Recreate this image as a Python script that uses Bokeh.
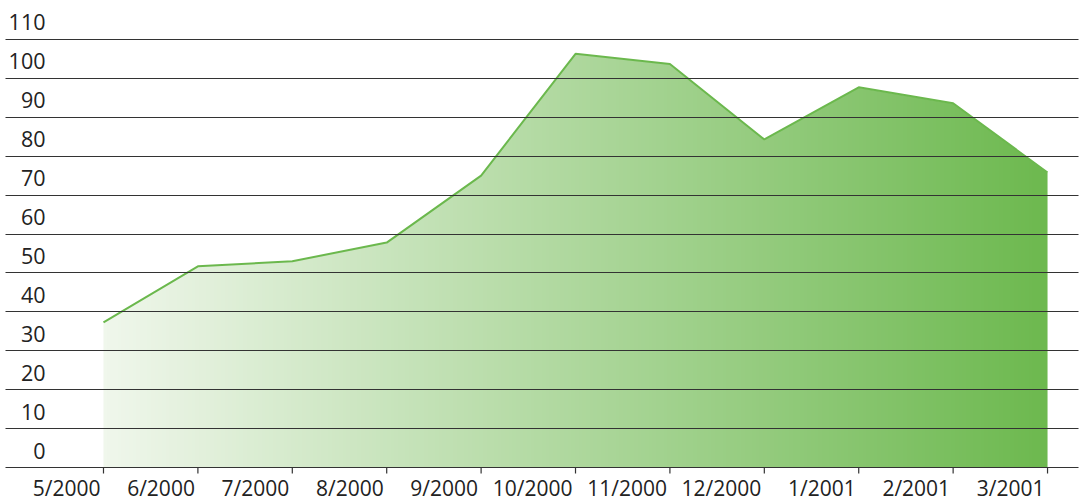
import numpy as np
from bokeh.plotting import figure
from bokeh.models import FixedTicker, ColumnDataSource, LabelSet, Range1d
from bokeh.core.properties import value
from bokeh.embed import file_html
from bokeh.resources import INLINE

months = ["5/2000", "6/2000", "7/2000", "8/2000", "9/2000", "10/2000",
          "11/2000", "12/2000", "1/2001", "2/2001", "3/2001"]
values = [37.3, 51.7, 53.0, 57.8, 75.0, 106.3, 103.7, 84.3, 97.7, 93.6, 75.8]
y_ticks = [0, 10, 20, 30, 40, 50, 60, 70, 80, 90, 100, 110]

GRID = "#333333"
TEXT = "#222222"
FONT = value("Open Sans")
LEFT_COL = (0xF0, 0xF7, 0xEC)
RIGHT_COL = (0x6D, 0xB9, 0x4F)
LINE_COL = "#6BB84D"

idx = list(range(len(months)))

H = 504
Y_TOP = 120.0
PX_PER_UNIT = 467.0 / Y_TOP          # 0 sits 37px above the bottom edge
Y_BOTTOM = -(H - 467.0) / PX_PER_UNIT

p = figure(width=1081, height=H, output_backend="svg", toolbar_location=None,
           x_range=Range1d(-1.038, 10.328), y_range=Range1d(Y_BOTTOM, Y_TOP),
           min_border_left=5, min_border_right=3, min_border_top=0,
           min_border_bottom=0, x_axis_location=None, y_axis_location=None,
           outline_line_color=None, background_fill_color="white")

# horizontal gradient area: gradient image + white mask above the line
n = 256
t = np.linspace(0, 1, n)
r = (LEFT_COL[0] + (RIGHT_COL[0] - LEFT_COL[0]) * t).astype(np.uint32)
g = (LEFT_COL[1] + (RIGHT_COL[1] - LEFT_COL[1]) * t).astype(np.uint32)
b = (LEFT_COL[2] + (RIGHT_COL[2] - LEFT_COL[2]) * t).astype(np.uint32)
img = (255 << 24) | (b << 16) | (g << 8) | r
img = img.reshape(1, n).astype(np.uint32)
vmax = max(values)
p.image_rgba(image=[img], x=idx[0], y=0, dw=idx[-1] - idx[0], dh=vmax)
e = 0.05
mask_x = [idx[0] - e, idx[0] - e] + idx + [idx[-1] + e, idx[-1] + e]
mask_y = [vmax + 1, values[0]] + values + [values[-1], vmax + 1]
p.patch(mask_x, mask_y, fill_color="white", line_color="white", line_width=0.5)

p.line(idx, values, line_color=LINE_COL, line_width=2)

# grid (the 0 line doubles as the x axis line)
p.xgrid.visible = False
p.ygrid.ticker = FixedTicker(ticks=y_ticks)
p.ygrid.grid_line_color = GRID
p.ygrid.grid_line_width = 1.2
p.ygrid.level = "overlay"

# x tick marks below the axis line (6 px)
tick_len = 6.0 / PX_PER_UNIT
p.segment(x0=idx, y0=[0] * len(idx), x1=idx, y1=[-tick_len] * len(idx),
          line_color=GRID, line_width=1.2)

# y labels above gridlines
ysrc = ColumnDataSource(dict(y=y_ticks, text=[str(v) for v in y_ticks]))
p.add_layout(LabelSet(x=40, y="y", text="text", source=ysrc, x_units="screen",
                      text_align="right", text_baseline="alphabetic", y_offset=9,
                      text_font=FONT, text_font_size="21.5px", text_color=TEXT))

# x labels right-aligned, ending just left of each tick
xsrc = ColumnDataSource(dict(x=idx, y=[0] * len(idx), text=months))
p.add_layout(LabelSet(x="x", y="y", text="text", source=xsrc,
                      text_align="right", text_baseline="alphabetic",
                      x_offset=-3, y_offset=-28,
                      text_font=FONT, text_font_size="21px", text_color=TEXT))

open("out.html", "w").write(file_html(p, INLINE))
